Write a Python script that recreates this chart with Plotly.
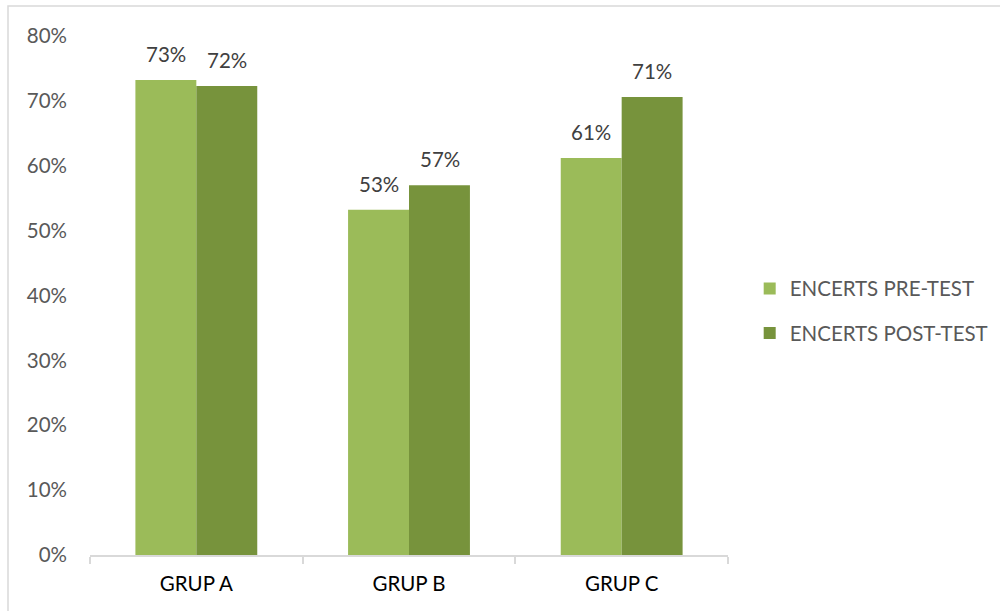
import plotly.graph_objects as go

categories = ["GRUP A", "GRUP B", "GRUP C"]
pre_test = [0.732, 0.532, 0.612]
post_test = [0.723, 0.570, 0.706]
series_names = ["ENCERTS PRE-TEST", "ENCERTS POST-TEST"]
y_ticks = [0, 0.1, 0.2, 0.3, 0.4, 0.5, 0.6, 0.7, 0.8]

FONT = "Lato, 'Open Sans', sans-serif"
FS = 20.5
colors = ["#9BBB59", "#77933C"]

fig = go.Figure()
for i, (name, vals, col) in enumerate(zip(series_names, [pre_test, post_test], colors)):
    fig.add_trace(go.Bar(x=categories, y=vals, name=name, marker_color=col,
                         marker_line_width=0, legendgroup=f"g{i}"))

# data labels
for vals, shift in zip([pre_test, post_test], [-30.5, 30.5]):
    for c, v in zip(categories, vals):
        fig.add_annotation(x=c, y=v, text=f"{round(v*100)}%", showarrow=False,
                           xshift=shift, yshift=26, yanchor="middle",
                           font=dict(family=FONT, size=FS, color="#404040"))

L, R, T, B = 90, 272, 36, 56
pw, ph = 1000 - L - R, 611 - T - B
fig.add_shape(type="rect", xref="paper", yref="paper",
              x0=(8 - L) / pw, x1=(1010 - L) / pw,
              y0=-(620 - (611 - B)) / ph, y1=1 + (T - 6) / ph,
              line=dict(color="#d9d9d9", width=1.5), fillcolor="rgba(0,0,0,0)",
              layer="below")

fig.update_layout(
    width=1000, height=611,
    margin=dict(l=L, r=R, t=T, b=B, autoexpand=False),
    paper_bgcolor="white", plot_bgcolor="white",
    barmode="group", bargap=0.427, bargroupgap=0,
    font=dict(family=FONT, size=FS, color="#595959"),
    legend=dict(x=1.034, y=0.47, xanchor="left", yanchor="middle",
                font=dict(family=FONT, size=FS, color="#595959"),
                traceorder="grouped", tracegroupgap=15),
    xaxis=dict(showline=True, linecolor="#d9d9d9", linewidth=1.5,
               ticks="outside", tickson="boundaries", ticklen=7,
               tickcolor="#d9d9d9", tickwidth=1.5, ticklabelstandoff=10,
               tickfont=dict(family=FONT, size=FS, color="#000000")),
    yaxis=dict(range=[0, 0.8], tickvals=y_ticks, tickformat=".0%",
               showgrid=False, zeroline=False, showline=False,
               ticks="", ticklabelstandoff=22,
               tickfont=dict(family=FONT, size=FS, color="#595959")),
)

fig.write_html("out.html")
